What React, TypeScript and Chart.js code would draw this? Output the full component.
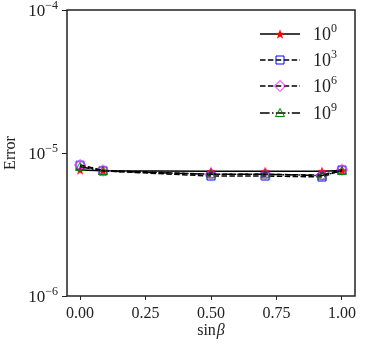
import React, { useEffect, useRef } from "react";
import { Chart, registerables } from "chart.js";

Chart.register(...registerables);

const sinBeta = [0.0, 0.0872, 0.5, 0.7071, 0.9239, 1.0];
const err1e0 = [7.6e-6, 7.5e-6, 7.45e-6, 7.45e-6, 7.45e-6, 7.55e-6];
const err1e3 = [8.2e-6, 7.5e-6, 6.9e-6, 6.9e-6, 6.8e-6, 7.6e-6];
const err1e6 = [8.25e-6, 7.55e-6, 7.1e-6, 7.1e-6, 7.0e-6, 7.65e-6];
const err1e9 = [8.0e-6, 7.5e-6, 7.1e-6, 7.1e-6, 6.95e-6, 7.5e-6];
const seriesExp = ["0", "3", "6", "9"];
const xTicks = [0, 0.25, 0.5, 0.75, 1.0];
const yTicks = [1e-6, 1e-5, 1e-4];
const yTickExp = ["\u22126", "\u22125", "\u22124"];

const FONT = "'Liberation Serif', 'DejaVu Serif', serif";

function makeMarker(kind: string): HTMLCanvasElement {
  const c = document.createElement("canvas");
  c.width = 14;
  c.height = 14;
  const ctx = c.getContext("2d")!;
  const cx = 7, cy = 7;
  ctx.lineWidth = 1;
  ctx.beginPath();
  if (kind === "star") {
    for (let i = 0; i < 10; i++) {
      const r = i % 2 === 0 ? 5.2 : 2.1;
      const a = -Math.PI / 2 + (i * Math.PI) / 5;
      const x = cx + r * Math.cos(a), y = cy + r * Math.sin(a) + 0.5;
      if (i === 0) ctx.moveTo(x, y); else ctx.lineTo(x, y);
    }
    ctx.closePath();
    ctx.fillStyle = "#ff0000";
    ctx.fill();
  } else if (kind === "square") {
    ctx.rect(cx - 4, cy - 4, 8, 8);
    ctx.strokeStyle = "#0000ff";
    ctx.stroke();
  } else if (kind === "diamond") {
    ctx.moveTo(cx, cy - 5.5);
    ctx.lineTo(cx + 5.5, cy);
    ctx.lineTo(cx, cy + 5.5);
    ctx.lineTo(cx - 5.5, cy);
    ctx.closePath();
    ctx.strokeStyle = "#ff00ff";
    ctx.stroke();
  } else {
    ctx.moveTo(cx, cy - 4.5);
    ctx.lineTo(cx + 4.5, cy + 3.5);
    ctx.lineTo(cx - 4.5, cy + 3.5);
    ctx.closePath();
    ctx.strokeStyle = "#008000";
    ctx.stroke();
  }
  return c;
}

export default function App() {
  const ref = useRef<HTMLCanvasElement | null>(null);

  useEffect(() => {
    if (!ref.current) return;
    const markers = [makeMarker("star"), makeMarker("square"), makeMarker("diamond"), makeMarker("triangle")];
    const dashes = [[], [5.5, 2.4], [5.5, 2.4], [9.6, 2.4, 1.5, 2.4]];
    const values = [err1e0, err1e3, err1e6, err1e9];

    const datasets = values.map((vals, i) => ({
      label: "10^" + seriesExp[i],
      data: vals.map((v, j) => ({ x: sinBeta[j], y: v })),
      borderColor: "#000000",
      borderWidth: 1.5,
      borderDash: dashes[i],
      pointStyle: markers[i] as any,
      pointRadius: 5,
      backgroundColor: "transparent",
      fill: false,
      order: 3 - i,
    }));

    const decor = {
      id: "decor",
      afterDraw(chart: any) {
        const ctx = chart.ctx as CanvasRenderingContext2D;
        const a = chart.chartArea;
        const ys = chart.scales.y;
        ctx.save();
        // box
        ctx.strokeStyle = "#222";
        ctx.lineWidth = 1.5;
        ctx.strokeRect(a.left, a.top, a.right - a.left, a.bottom - a.top);
        // y tick labels
        ctx.fillStyle = "#222";
        ctx.textBaseline = "alphabetic";
        yTicks.forEach((v, i) => {
          const y = ys.getPixelForValue(v);
          ctx.font = `17px ${FONT}`;
          const wb = ctx.measureText("10").width;
          ctx.font = `12px ${FONT}`;
          const we = ctx.measureText(yTickExp[i]).width;
          const right = a.left - 9;
          ctx.font = `17px ${FONT}`;
          ctx.textAlign = "left";
          ctx.fillText("10", right - we - wb, y + 6);
          ctx.font = `12px ${FONT}`;
          ctx.fillText(yTickExp[i], right - we, y - 1);
        });
        // y title
        ctx.save();
        ctx.translate(15, (a.top + a.bottom) / 2);
        ctx.rotate(-Math.PI / 2);
        ctx.font = `16px ${FONT}`;
        ctx.textAlign = "center";
        ctx.fillText("Error", 0, 0);
        ctx.restore();
        // x title
        ctx.font = `16px ${FONT}`;
        const w1 = ctx.measureText("sin").width;
        ctx.font = `italic 16px ${FONT}`;
        const w2 = ctx.measureText("\u03B2").width;
        const cx = (a.left + a.right) / 2;
        ctx.textAlign = "left";
        ctx.font = `16px ${FONT}`;
        ctx.fillText("sin", cx - (w1 + w2 + 1) / 2, 335);
        ctx.font = `italic 16px ${FONT}`;
        ctx.fillText("\u03B2", cx - (w1 + w2 + 1) / 2 + w1 + 1, 335);
        // legend
        const rowY = [34, 60, 86, 113];
        for (let i = 0; i < 4; i++) {
          const y = rowY[i];
          ctx.strokeStyle = "#000";
          ctx.lineWidth = 1.5;
          ctx.setLineDash(dashes[i]);
          ctx.beginPath();
          ctx.moveTo(260, y);
          ctx.lineTo(300, y);
          ctx.stroke();
          ctx.setLineDash([]);
          ctx.drawImage(markers[i], 280 - 7, y - 7);
          ctx.fillStyle = "#222";
          ctx.font = `18px ${FONT}`;
          ctx.fillText("10", 313, y + 6);
          const wb = ctx.measureText("10").width;
          ctx.font = `12px ${FONT}`;
          ctx.fillText(seriesExp[i], 313 + wb, y - 2);
        }
        ctx.restore();
      },
    };

    const chart = new Chart(ref.current, {
      type: "line",
      data: { datasets: datasets as any },
      plugins: [decor],
      options: {
        animation: false,
        responsive: false,
        layout: { padding: { top: 10, right: 10, left: 0, bottom: 0 } },
        plugins: { legend: { display: false }, tooltip: { enabled: false } },
        scales: {
          x: {
            type: "linear",
            min: -0.05,
            max: 1.05,
            afterBuildTicks: (s: any) => {
              s.ticks = xTicks.map((v) => ({ value: v }));
            },
            afterFit: (s: any) => {
              s.height = 50;
            },
            ticks: {
              color: "#222",
              font: { family: FONT, size: 16 },
              padding: 4,
              maxRotation: 0,
              callback: (v: any) => Number(v).toFixed(2),
            },
            grid: { drawOnChartArea: false, drawTicks: true, tickLength: 4, color: "#222", lineWidth: 1 },
            border: { display: false },
          },
          y: {
            type: "logarithmic",
            min: 1e-6,
            max: 1e-4,
            afterBuildTicks: (s: any) => {
              s.ticks = yTicks.map((v) => ({ value: v }));
            },
            afterFit: (s: any) => {
              s.width = 67;
            },
            ticks: { callback: () => "", font: { size: 1 } },
            grid: { drawOnChartArea: false, drawTicks: true, tickLength: 5, color: "#222", lineWidth: 1 },
            border: { display: false },
          },
        },
      },
    });
    return () => chart.destroy();
  }, []);

  return (
    <div style={{ position: "absolute", left: 0, top: 0, width: 365, height: 346, background: "#fff" }}>
      <canvas ref={ref} width={365} height={346} style={{ display: "block" }} />
    </div>
  );
}
